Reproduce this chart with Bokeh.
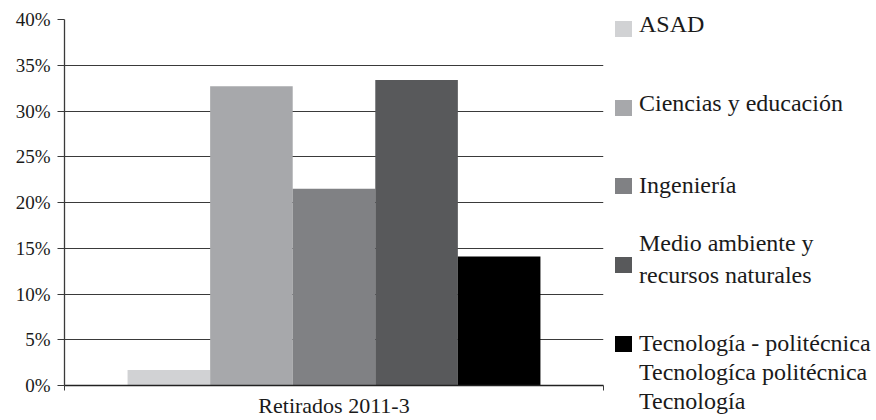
from bokeh.plotting import figure
from bokeh.models import Range1d, FixedTicker, Div
from bokeh.layouts import row
from bokeh.embed import file_html
from bokeh.resources import INLINE

# ---- data ----
category = "Retirados 2011-3"
series = ["ASAD", "Ciencias y educación", "Ingeniería",
          "Medio ambiente y recursos naturales", "Tecnología - politécnica"]
values = [1.7, 32.7, 21.5, 33.4, 14.1]
colors = ["#d1d2d4", "#a7a8ab", "#808184", "#58595b", "#000000"]
legend_lines = [["ASAD"], ["Ciencias y educación"], ["Ingeniería"],
                ["Medio ambiente y", "recursos naturales"],
                ["Tecnología - politécnica", "Tecnologíca politécnica", "Tecnología"]]
y_ticks = [0, 5, 10, 15, 20, 25, 30, 35, 40]
y_tick_labels = ["0%", "5%", "10%", "15%", "20%", "25%", "30%", "35%", "40%"]

FONT = "'Liberation Serif', 'DejaVu Serif', 'Noto Serif', serif"
DARK = "#3a3a3a"
TEXT = "#1a1a1a"

# ---- main chart ----
p = figure(width=608, height=420, output_backend="svg", toolbar_location=None,
           x_range=Range1d(0, 1), y_range=Range1d(0, 40),
           min_border_left=64, min_border_right=5, min_border_top=19,
           min_border_bottom=35)
p.outline_line_color = None

n = len(series)
group_w = 0.766
bw = group_w / n
xs = [0.5 + (i - (n - 1) / 2) * bw for i in range(n)]
p.vbar(x=xs, top=values, width=bw, bottom=0, fill_color=colors, line_color=None)

# y axis
p.yaxis.ticker = FixedTicker(ticks=y_ticks)
p.yaxis.major_label_overrides = {t: l for t, l in zip(y_ticks, y_tick_labels)}
p.yaxis.major_label_text_font = FONT
p.yaxis.major_label_text_font_size = "19px"
p.yaxis.major_label_text_color = TEXT
p.yaxis.major_tick_in = 0
p.yaxis.major_tick_out = 7
p.yaxis.major_label_standoff = 7
p.yaxis.minor_tick_line_color = None
p.yaxis.axis_line_color = DARK
p.yaxis.major_tick_line_color = DARK
p.yaxis.axis_line_width = 1.3

# x axis: category label at center, boundary ticks as minor ticks
p.xaxis.ticker = FixedTicker(ticks=[0.5], minor_ticks=[0, 1])
p.xaxis.major_label_overrides = {0.5: category}
p.xaxis.major_label_text_font = FONT
p.xaxis.major_label_text_font_size = "22px"
p.xaxis.major_label_text_color = TEXT
p.xaxis.major_tick_line_color = None
p.xaxis.major_tick_in = 0
p.xaxis.major_tick_out = 0
p.xaxis.minor_tick_in = 0
p.xaxis.minor_tick_out = 5
p.xaxis.minor_tick_line_color = DARK
p.xaxis.major_label_standoff = 2
p.xaxis.axis_line_color = "#222222"
p.xaxis.axis_line_width = 1.5

# grid
p.xgrid.grid_line_color = None
p.ygrid.ticker = FixedTicker(ticks=y_ticks)
p.ygrid.grid_line_color = DARK
p.ygrid.grid_line_width = 1.2

# ---- legend panel (HTML) ----
LW, LH = 268, 420
FS = 24
sq_left, sq_w, sq_h = 7, 17, 16
txt_left = 31
square_top = [21, 100, 178, 257, 336]
first_base = [31.7, 111, 193, 250.7, 350.7]
line_gap = [0, 0, 0, 32.3, 29.2]
asc = 0.8375 * FS

parts = []
for i, lines in enumerate(legend_lines):
    parts.append(
        f'<div style="position:absolute;left:{sq_left}px;top:{square_top[i]}px;'
        f'width:{sq_w}px;height:{sq_h}px;background:{colors[i]};"></div>')
    for j, line in enumerate(lines):
        top = first_base[i] + j * line_gap[i] - asc
        parts.append(
            f'<div style="position:absolute;left:{txt_left}px;top:{top:.1f}px;'
            f'font-size:{FS}px;line-height:{FS}px;white-space:nowrap;">{line}</div>')
html = (f'<div style="position:relative;width:{LW}px;height:{LH}px;overflow:hidden;'
        f'font-family:{FONT};color:{TEXT};margin:0;padding:0;">' + "".join(parts) + '</div>')
leg = Div(text=html, width=LW, height=LH, margin=(0, 0, 0, 0))

layout = row(p, leg)
open("out.html", "w", encoding="utf-8").write(file_html(layout, INLINE))
